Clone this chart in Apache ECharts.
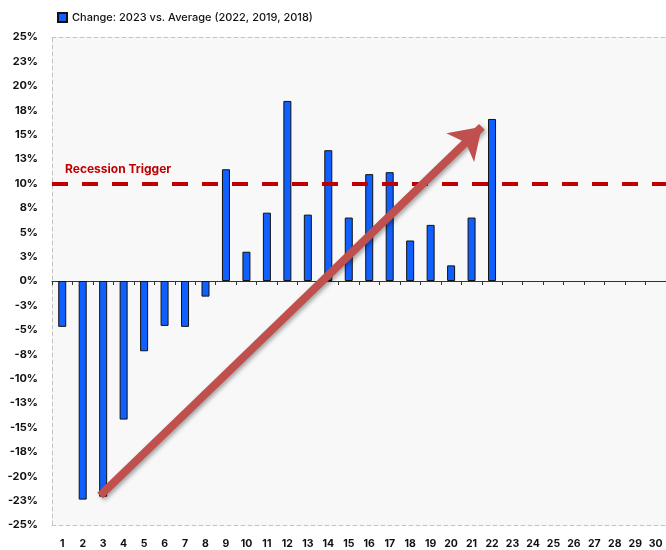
<!DOCTYPE html>
<html>
<head>
<meta charset="utf-8">
<script src="https://cdn.jsdelivr.net/npm/echarts@6/dist/echarts.min.js"></script>
<style>
  html, body { margin: 0; padding: 0; background: #fff; }
  #main { width: 666px; height: 550px; }
</style>
</head>
<body>
<div id="main"></div>
<script>
// 数据
const weeks = [];
for (let i = 1; i <= 30; i++) weeks.push(String(i));
const changeVals = [-4.7, -22.4, -22.1, -14.2, -7.2, -4.6, -4.7, -1.6,
  11.45, 3.0, 7.0, 18.45, 6.8, 13.4, 6.5, 10.95, 11.15, 4.15, 5.75, 1.6, 6.5, 16.6];
const recessionLevel = 10;
// 箭头 (x 为周序号, y 为百分比)
const arrowFrom = [2.85, -22.0];
const arrowTo = [21.5, 15.8];

const font = 'Inter, "Open Sans", sans-serif';
const dashed = { color: '#c4c4c4', width: 1, type: [4, 3] };

// Excel 风格的四舍五入 (远离零)
function pct(v) {
  const r = Math.sign(v) * Math.round(Math.abs(v));
  return r + '%';
}

const myChart = echarts.init(document.getElementById('main'));
const option = {
  backgroundColor: '#ffffff',
  animation: false,
  legend: {
    left: 52, top: 7,
    itemWidth: 9, itemHeight: 9, itemGap: 4,
    textStyle: { fontFamily: font, fontSize: 11, color: '#111', fontWeight: 500 },
    data: [{ name: 'Change: 2023 vs. Average (2022, 2019, 2018)', icon: 'rect' }]
  },
  grid: {
    left: 52, right: -6, top: 37, bottom: 25,
    show: true, backgroundColor: '#f8f8f8', borderWidth: 0
  },
  xAxis: [
    {
      // 底部标签 + 虚线边框
      type: 'category', data: weeks, position: 'bottom',
      axisLine: { show: true, onZero: false, lineStyle: dashed },
      axisTick: { show: false },
      axisLabel: { fontFamily: font, fontSize: 10.5, fontWeight: 'bold', color: '#111', margin: 13, interval: 0 }
    },
    {
      // 零线
      type: 'category', data: weeks, position: 'bottom',
      axisLine: { show: true, onZero: true, lineStyle: { color: '#333', width: 1 } },
      axisTick: { show: true, length: 4, lineStyle: { color: '#333' } },
      axisLabel: { show: false }
    },
    { type: 'value', min: 0.5, max: 30.5, show: false },
    {
      // 顶部虚线边框
      type: 'category', data: weeks, position: 'top',
      axisLine: { show: true, onZero: false, lineStyle: dashed },
      axisTick: { show: false }, axisLabel: { show: false }
    }
  ],
  yAxis: {
    type: 'value', min: -25, max: 25, interval: 2.5,
    axisLine: { show: true, lineStyle: dashed },
    axisTick: { show: false },
    splitLine: { show: false },
    axisLabel: { fontFamily: font, fontSize: 11, fontWeight: 'bold', color: '#111', margin: 14, formatter: pct }
  },
  series: [
    {
      name: 'Change: 2023 vs. Average (2022, 2019, 2018)',
      type: 'bar', xAxisIndex: 0, data: changeVals, barWidth: 8,
      itemStyle: { color: '#1060ff', borderColor: '#111', borderWidth: 1 },
      markLine: {
        silent: true, symbol: 'none',
        lineStyle: { color: '#c00000', width: 4, type: [16, 14] },
        label: {
          show: true, position: 'insideStartTop', distance: [13, 8],
          formatter: 'Recession Trigger',
          fontFamily: font, fontSize: 12, fontWeight: 'bold', color: '#c00000'
        },
        data: [{ yAxis: recessionLevel }]
      }
    },
    {
      type: 'line', xAxisIndex: 2, data: [], silent: true,
      markLine: {
        silent: true, symbol: ['none', 'arrow'], symbolSize: 30,
        lineStyle: {
          color: '#c0504d', width: 8, type: 'solid', opacity: 1,
          shadowColor: 'rgba(0,0,0,0.35)', shadowBlur: 4, shadowOffsetX: 2, shadowOffsetY: 2
        },
        label: { show: false },
        data: [[{ coord: arrowFrom }, { coord: arrowTo }]]
      }
    }
  ]
};
myChart.setOption(option);
</script>
</body>
</html>
